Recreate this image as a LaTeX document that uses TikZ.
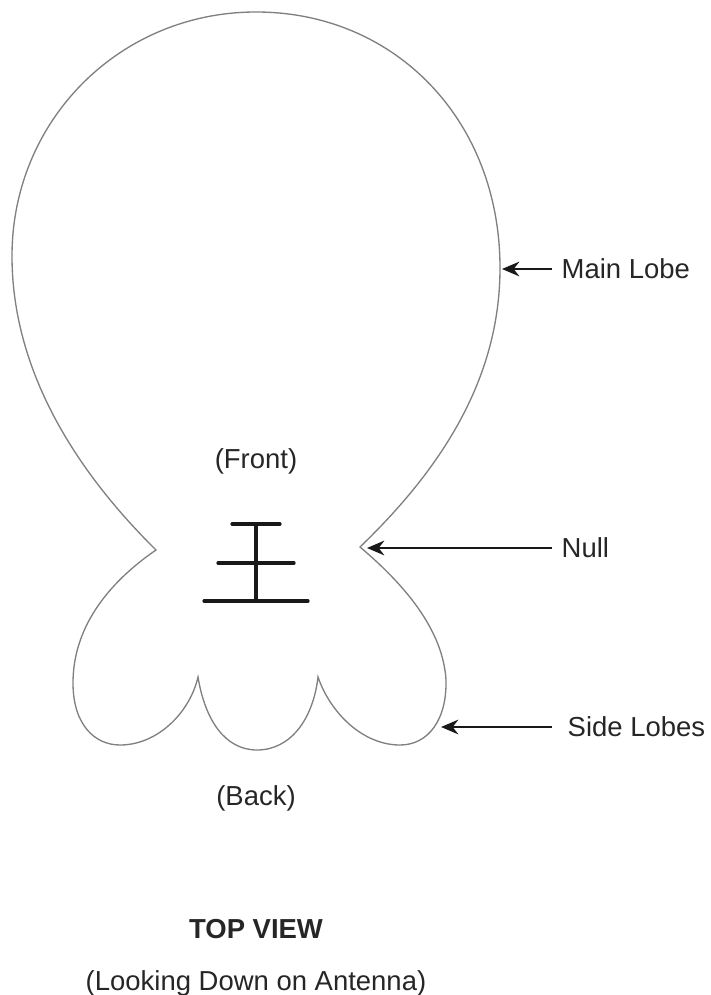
\documentclass[tikz,border=0pt]{standalone}
\usepackage{fontspec}
\setmainfont{Liberation Sans}
\usepackage{tikz}
\usetikzlibrary{arrows.meta,calc,positioning}

\begin{document}
\begin{tikzpicture}[x=0.75pt,y=-0.75pt,font=\fontsize{20.6}{24}\selectfont]
  \tikzset{lobe/.style={draw=black!50,line width=1pt}}
  \tikzset{element/.style={draw=black!90,line width=2.4pt,line cap=round}}
  \tikzset{pointer/.style={draw=black!90,line width=1.5pt,-{Stealth[length=13pt,width=11pt]}}}
  \tikzset{lab/.style={anchor=west,text=black!85}}
  \tikzset{capt/.style={anchor=center,text=black!85}}
  \useasboundingbox (0,0) rectangle (710,995);

  % Pattern outline
  \draw[lobe] (360,547)
    .. controls (440,470) and (500,380) .. (500,268)
    .. controls (500,120) and (395,12) .. (256,12)
    .. controls (120,12) and (12,120) .. (12,256)
    .. controls (12,370) and (75,470) .. (156,550)
    .. controls (105,585) and (73,630) .. (73,683)
    .. controls (73,725) and (95,745) .. (120,745)
    .. controls (158,745) and (190,712) .. (198,677)
    .. controls (205,720) and (225,750) .. (257,750)
    .. controls (290,750) and (313,720) .. (318,677)
    .. controls (330,712) and (362,745) .. (400,745)
    .. controls (428,745) and (447,720) .. (446,680)
    .. controls (443,630) and (405,585) .. (360,547) -- cycle;

  % Antenna
  \coordinate (eTop) at (256,524);
  \coordinate (eBot) at (256,601);
  \draw[element] (eTop) -- (eBot);
  \draw[element] (232,524) -- (280,524);
  \draw[element] (218,563) -- (294,563);
  \draw[element] (204,601) -- (308,601);

  % Labels
  \node[lab] (main) at (557,269) {Main Lobe};
  \node[lab] (null) at (557,548) {Null};
  \node[lab] (side) at (563,727) {Side Lobes};
  \coordinate (mainTip) at (502,269);
  \coordinate (nullTip) at (367,548);
  \coordinate (sideTip) at (441,727);
  \draw[pointer,shorten <=3.75pt] (main.west) -- (mainTip);
  \draw[pointer,shorten <=3.75pt] (null.west) -- (nullTip);
  \draw[pointer,shorten <=8pt] (side.west) -- (sideTip);

  \node[capt] (front) at (256,461) {(Front)};
  \node[capt] (back) at (256,798) {(Back)};
  \node[capt,font=\fontsize{20.6}{24}\selectfont\bfseries] (top) at (256,929) {TOP VIEW};
  \node[capt] (down) at (256,983) {(Looking Down on Antenna)};
\end{tikzpicture}
\end{document}
